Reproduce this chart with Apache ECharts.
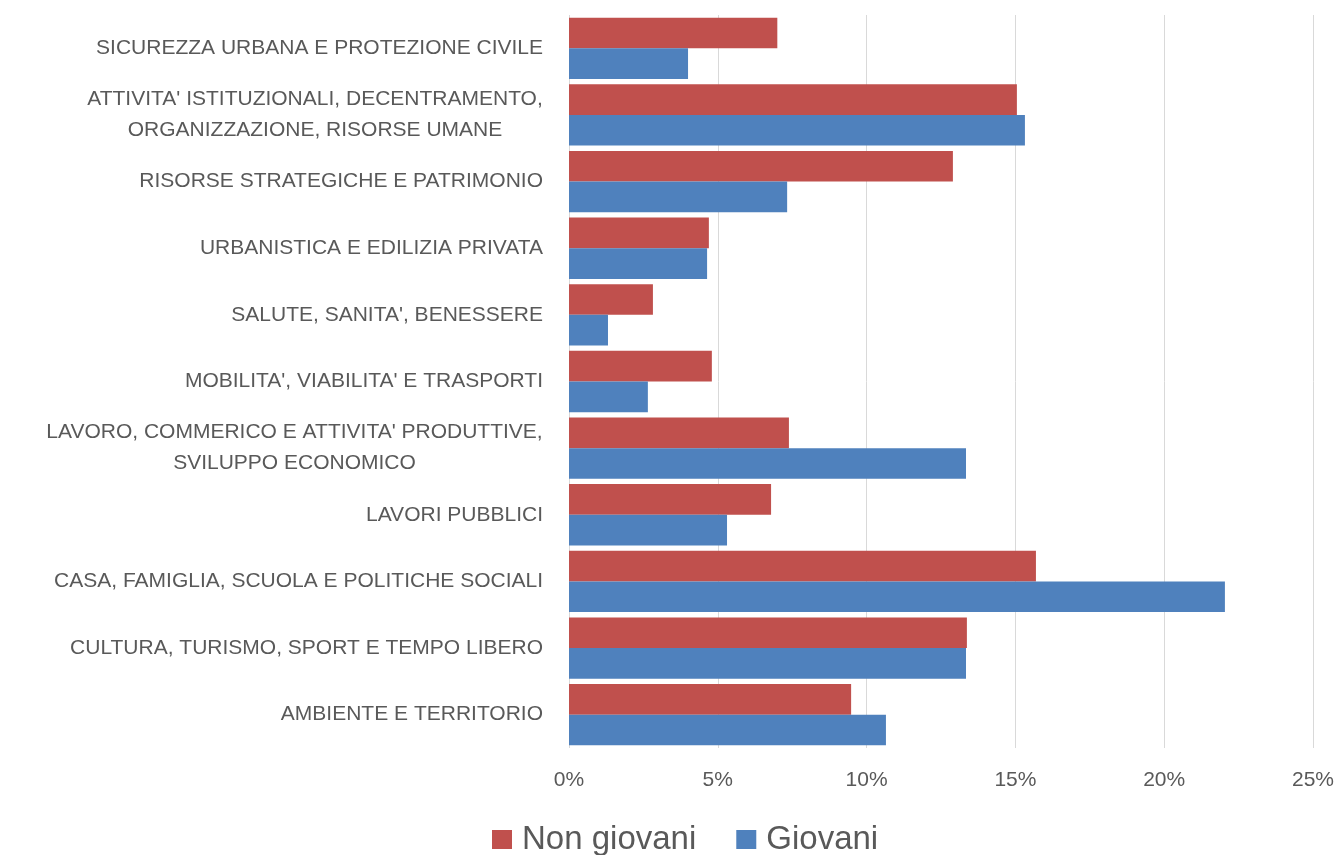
<!DOCTYPE html>
<html><head><meta charset="utf-8">
<script src="https://cdn.jsdelivr.net/npm/echarts@6/dist/echarts.min.js"></script>
<style>html,body{margin:0;padding:0;background:#fff}#c{width:1338px;height:855px}</style>
</head><body><div id="c"></div>
<script>
const categories = [
  "SICUREZZA URBANA E PROTEZIONE CIVILE",
  "ATTIVITA' ISTITUZIONALI, DECENTRAMENTO,\nORGANIZZAZIONE, RISORSE UMANE",
  "RISORSE STRATEGICHE E PATRIMONIO",
  "URBANISTICA E EDILIZIA PRIVATA",
  "SALUTE, SANITA', BENESSERE",
  "MOBILITA', VIABILITA' E TRASPORTI",
  "LAVORO, COMMERICO E ATTIVITA' PRODUTTIVE,\nSVILUPPO ECONOMICO",
  "LAVORI PUBBLICI",
  "CASA, FAMIGLIA, SCUOLA E POLITICHE SOCIALI",
  "CULTURA, TURISMO, SPORT E TEMPO LIBERO",
  "AMBIENTE E TERRITORIO"
];
const nonGiovani = [7.0, 15.05, 12.9, 4.7, 2.82, 4.8, 7.39, 6.79, 15.69, 13.37, 9.48];
const giovani    = [4.0, 15.32, 7.33, 4.64, 1.31, 2.65, 13.34, 5.31, 22.04, 13.34, 10.65];
const xTicks = [0, 5, 10, 15, 20, 25];

const FONT = '"Liberation Sans"';
const LABEL_SIZE = 21;
const cv = document.createElement('canvas').getContext('2d');
cv.font = LABEL_SIZE + 'px ' + FONT;
const rich = {};
categories.forEach((c, i) => {
  if (c.indexOf('\n') >= 0) {
    const w = Math.max.apply(null, c.split('\n').map(l => cv.measureText(l).width));
    rich['c' + i] = {fontSize: LABEL_SIZE, color: '#595959', width: Math.ceil(w), align: 'center', lineHeight: 31, fontFamily: FONT};
  }
});
function fmt(v){
  const i = categories.indexOf(v);
  if (v.indexOf('\n') < 0) return v;
  return v.split('\n').map(l => '{c' + i + '|' + l + '}').join('\n');
}

const chart = echarts.init(document.getElementById('c'), null, {renderer:'canvas'});
chart.setOption({
  animation: false,
  textStyle: {fontFamily: FONT},
  grid: {left: 569, right: 25, top: 15, bottom: 107, containLabel: false},
  legend: {
    bottom: -1, left: 492, padding: 0,
    itemWidth: 20, itemHeight: 19, itemGap: 40,
    icon: 'rect',
    textStyle: {fontSize: 33, color: '#595959', fontFamily: FONT, padding: [0, 0, 0, 5]},
    data: ['Non giovani', 'Giovani']
  },
  xAxis: {
    type: 'value', min: 0, max: 25, interval: 5,
    axisLine: {show: false}, axisTick: {show: false},
    splitLine: {lineStyle: {color: '#D9D9D9', width: 1}},
    axisLabel: {formatter: v => xTicks.includes(v) ? v + '%' : '', fontSize: LABEL_SIZE, color: '#595959', margin: 22}
  },
  yAxis: {
    type: 'category', inverse: true, data: categories,
    axisLine: {show: false}, axisTick: {show: false},
    axisLabel: {
      fontSize: LABEL_SIZE, color: '#595959', margin: 26, lineHeight: 31,
      formatter: fmt,
      rich: rich
    }
  },
  series: [
    {name: 'Non giovani', type: 'bar', data: nonGiovani, itemStyle: {color: '#C0504D'}, barGap: '0%', barCategoryGap: '8%'},
    {name: 'Giovani', type: 'bar', data: giovani, itemStyle: {color: '#4F81BD'}, barGap: '0%', barCategoryGap: '8%'}
  ]
});
</script>
</body></html>
